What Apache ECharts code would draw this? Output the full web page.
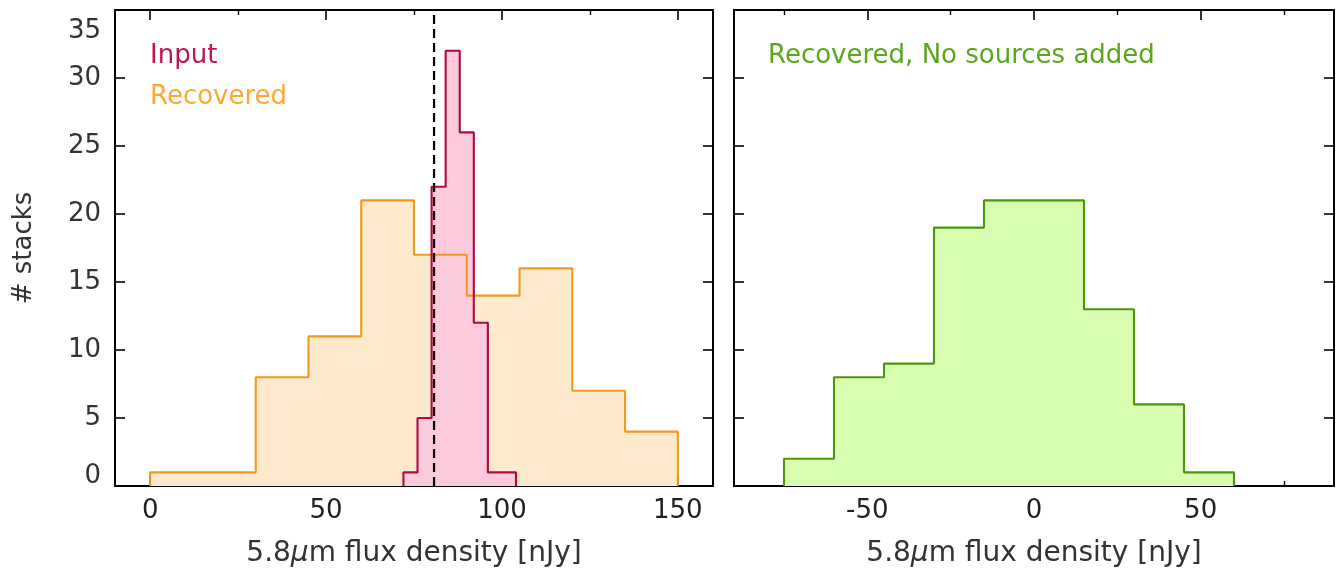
<!DOCTYPE html>
<html><head><meta charset="utf-8">
<script src="https://cdn.jsdelivr.net/npm/echarts@6/dist/echarts.min.js"></script>
<style>html,body{margin:0;padding:0;background:#fff}#c{width:1340px;height:574px}</style>
</head><body><div id="c"></div>
<script>
// ---- data ----
const inputEdges  = [72, 76, 80, 84, 88, 92, 96, 100, 104];
const inputCounts = [1, 5, 22, 32, 26, 12, 1, 1];
const recEdges    = [0, 15, 30, 45, 60, 75, 90, 105, 120, 135, 150];
const recCounts   = [1, 1, 8, 11, 21, 17, 14, 16, 7, 4];
const nullEdges   = [-75, -60, -45, -30, -15, 0, 15, 30, 45, 60];
const nullCounts  = [2, 8, 9, 19, 21, 21, 13, 6, 1];
const refLineX    = 80.7;
const leftXRange  = [-10, 160];
const rightXRange = [-90, 90];
const yRange      = [0, 35];
const yStep       = 5;
const labelInput  = 'Input';
const labelRec    = 'Recovered';
const labelNull   = 'Recovered, No sources added';
const xTitle      = '5.8{i|μ}m flux density [nJy]';
const yTitle      = '# stacks';

// ---- helpers ----
function stepData(edges, counts) {
  const d = [[edges[0], 0]];
  counts.forEach((c, i) => d.push([edges[i], c]));
  d.push([edges[edges.length - 1], counts[counts.length - 1]]);
  d.push([edges[edges.length - 1], 0]);
  return d;
}
const FONT = 'DejaVu Sans';
const axisLine = { show: true, onZero: false, lineStyle: { color: '#000', width: 2 } };
const tick = { show: true, inside: true, length: 10, lineStyle: { color: '#000', width: 1.6 } };
const minor = { show: true, splitNumber: 2, length: 5, lineStyle: { color: '#000', width: 1.4 } };

function xAxis(gridIndex, range, pos, labels) {
  return {
    type: 'value', gridIndex, position: pos, min: range[0], max: range[1], splitNumber: 4,
    axisLine, axisTick: tick, minorTick: minor, splitLine: { show: false }, minorSplitLine: { show: false },
    axisLabel: { show: labels, showMinLabel: false, showMaxLabel: false, fontSize: 26, color: '#222', fontFamily: FONT, margin: 12 },
    name: labels ? xTitle : '', nameLocation: 'middle', nameGap: 54,
    nameTextStyle: { fontSize: 28, color: '#333', fontFamily: FONT,
      rich: { i: { fontSize: 28, color: '#333', fontFamily: FONT, fontStyle: 'italic' } } }
  };
}
function yAxis(gridIndex, pos, labels, title) {
  return {
    type: 'value', gridIndex, position: pos, min: yRange[0], max: yRange[1], interval: yStep,
    axisLine, axisTick: tick, splitLine: { show: false },
    axisLabel: { show: labels, fontSize: 26, color: '#333', fontFamily: FONT, margin: 14,
      verticalAlignMinLabel: 'middle', verticalAlignMaxLabel: 'top',
      formatter: v => v === yRange[1] ? '{t|' + v + '}' : v === yRange[0] ? '{b|' + v + '}' : String(v),
      rich: { t: { fontSize: 26, color: '#333', fontFamily: FONT, padding: [8, 0, 0, 0] },
              b: { fontSize: 26, color: '#333', fontFamily: FONT, padding: [0, 0, 20, 0] } } },
    name: title ? yTitle : '', nameLocation: 'middle', nameGap: 78,
    nameTextStyle: { fontSize: 26, color: '#333', fontFamily: FONT }
  };
}
function area(xi, yi, data, fill, z) {
  return { type: 'line', xAxisIndex: xi, yAxisIndex: yi, data, step: 'end', showSymbol: false, silent: true,
    lineStyle: { width: 0, opacity: 0 }, areaStyle: { color: fill, opacity: 1 }, z };
}
function outline(xi, yi, data, color, z) {
  return { type: 'line', xAxisIndex: xi, yAxisIndex: yi, data, step: 'end', showSymbol: false, silent: true,
    lineStyle: { width: 2.1, color }, z };
}

const recData = stepData(recEdges, recCounts);
const inData = stepData(inputEdges, inputCounts);
const nullData = stepData(nullEdges, nullCounts);

const chart = echarts.init(document.getElementById('c'), null, { renderer: 'canvas' });
chart.setOption({
  animation: false,
  backgroundColor: '#fff',
  grid: [
    { left: 115, top: 10, width: 598, bottom: 88 },
    { left: 734, top: 10, width: 600, bottom: 88 }
  ],
  xAxis: [
    xAxis(0, leftXRange, 'bottom', true),
    xAxis(0, leftXRange, 'top', false),
    xAxis(1, rightXRange, 'bottom', true),
    xAxis(1, rightXRange, 'top', false)
  ],
  yAxis: [
    yAxis(0, 'left', true, true),
    yAxis(0, 'right', false, false),
    yAxis(1, 'left', false, false),
    yAxis(1, 'right', false, false)
  ],
  graphic: [
    { type: 'text', left: 150, top: 43, style: { text: labelInput, fill: '#c0154f', font: '26px "DejaVu Sans"' } },
    { type: 'text', left: 150, top: 84, style: { text: labelRec, fill: '#fca934', font: '26px "DejaVu Sans"' } },
    { type: 'text', left: 768, top: 43, style: { text: labelNull, fill: '#5aa61c', font: '26px "DejaVu Sans"' } }
  ],
  series: [
    area(0, 0, recData, '#fde9cb', 2),
    area(0, 0, inData, '#fdc9dc', 3),
    outline(0, 0, recData, '#f29a1f', 4),
    outline(0, 0, inData, '#ad0a3e', 5),
    { type: 'line', xAxisIndex: 0, yAxisIndex: 0, data: [[refLineX, yRange[0]], [refLineX, yRange[1]]],
      showSymbol: false, silent: true, lineStyle: { color: '#000', width: 2.2, type: [9, 5] }, z: 6 },
    area(2, 2, nullData, '#d8fdb1', 2),
    outline(2, 2, nullData, '#4c9608', 4)
  ]
});
</script></body></html>
